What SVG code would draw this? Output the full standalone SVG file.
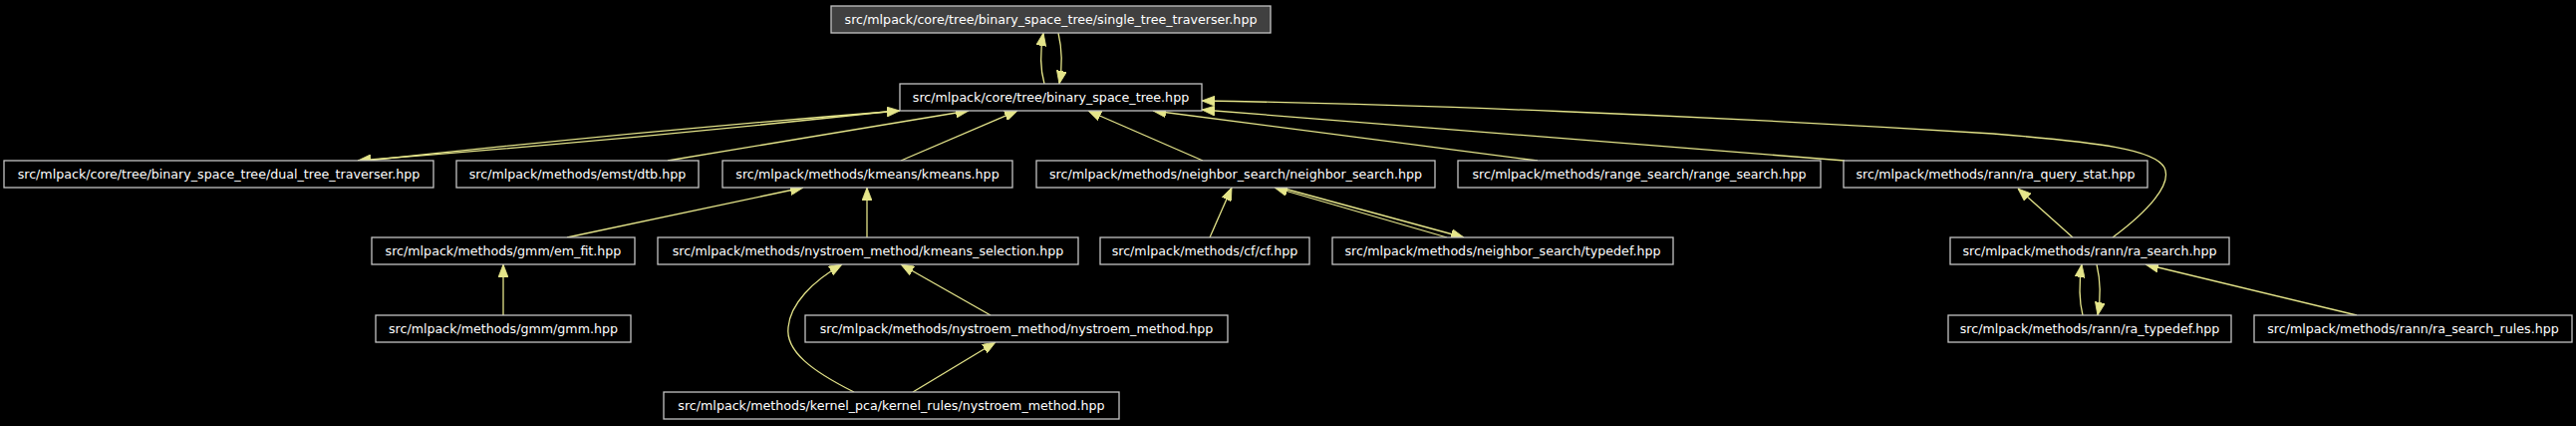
<svg xmlns="http://www.w3.org/2000/svg" width="2585" height="427" viewBox="0 0 2585 427">
<defs>
<style>
.n rect{fill:#000;stroke:#c4c4c4;stroke-width:1.3}
.n.hl rect{fill:#404040}
.n text{fill:#fff;font-family:"DejaVu Sans",sans-serif;font-size:12.65px;text-anchor:middle}
#edges path{fill:none;stroke:#e5e58a;stroke-width:1.3;marker-end:url(#ah)}
</style>
<marker id="ah" viewBox="0 0 13 10" refX="13" refY="5" markerWidth="13" markerHeight="10" markerUnits="userSpaceOnUse" orient="auto">
<path d="M0,0 L13,5 L0,10 z" fill="#e5e58a" stroke="#e5e58a" stroke-width="0.8"/>
</marker>
</defs>
<rect width="2585" height="427" fill="#000"/>
<g id="edges">
<path d="M1048,84 C1044,70 1044,50 1047,33"/>
<path d="M1062,33 C1066,50 1066,68 1063,84"/>
<path d="M368,161 Q635,132 903,111"/>
<path d="M899,111 Q630,140 359,161"/>
<path d="M670,161 L972,111"/>
<path d="M904,161 L1021,111"/>
<path d="M1207,161 L1092,111"/>
<path d="M1543,161 L1157,111"/>
<path d="M1851,161 L1206,110"/>
<path d="M2120,238 C2155,212 2180,185 2172,168 C2162,150 2110,143 2000,134 C1700,115 1400,104 1206,101"/>
<path d="M2080,238 L2025,189"/>
<path d="M569,238 L806,188"/>
<path d="M870,238 L870,188"/>
<path d="M1214,238 L1236,188"/>
<path d="M1452,238 L1279,188"/>
<path d="M1285,188 L1469,238"/>
<path d="M505,316 L505,265"/>
<path d="M994,316 L904,265"/>
<path d="M857,393 C815,372 788,352 791,328 C793,305 815,282 845,265"/>
<path d="M916,393 L999,343"/>
<path d="M2090,316 C2086,300 2086,285 2089,265"/>
<path d="M2104,265 C2108,282 2108,300 2105,316"/>
<path d="M2365,316 L2153,265"/>
</g>
<g id="n_single" class="n hl"><rect x="834" y="6" width="441" height="27"/><text x="1054.5" y="24.3">src/mlpack/core/tree/binary_space_tree/single_tree_traverser.hpp</text></g>
<g id="n_bst" class="n"><rect x="903" y="84" width="303" height="27"/><text x="1054.5" y="102.3">src/mlpack/core/tree/binary_space_tree.hpp</text></g>
<g id="n_dual" class="n"><rect x="4" y="161" width="431" height="27"/><text x="219.5" y="179.3">src/mlpack/core/tree/binary_space_tree/dual_tree_traverser.hpp</text></g>
<g id="n_dtb" class="n"><rect x="458" y="161" width="243" height="27"/><text x="579.5" y="179.3">src/mlpack/methods/emst/dtb.hpp</text></g>
<g id="n_kmeans" class="n"><rect x="725" y="161" width="291" height="27"/><text x="870.5" y="179.3">src/mlpack/methods/kmeans/kmeans.hpp</text></g>
<g id="n_ns" class="n"><rect x="1040" y="161" width="400" height="27"/><text x="1240" y="179.3">src/mlpack/methods/neighbor_search/neighbor_search.hpp</text></g>
<g id="n_range" class="n"><rect x="1463" y="161" width="364" height="27"/><text x="1645" y="179.3">src/mlpack/methods/range_search/range_search.hpp</text></g>
<g id="n_raqs" class="n"><rect x="1850" y="161" width="305" height="27"/><text x="2002.5" y="179.3">src/mlpack/methods/rann/ra_query_stat.hpp</text></g>
<g id="n_emfit" class="n"><rect x="373" y="238" width="264" height="27"/><text x="505" y="256.3">src/mlpack/methods/gmm/em_fit.hpp</text></g>
<g id="n_kmsel" class="n"><rect x="660" y="238" width="422" height="27"/><text x="871" y="256.3">src/mlpack/methods/nystroem_method/kmeans_selection.hpp</text></g>
<g id="n_cf" class="n"><rect x="1104" y="238" width="210" height="27"/><text x="1209" y="256.3">src/mlpack/methods/cf/cf.hpp</text></g>
<g id="n_nstypedef" class="n"><rect x="1337" y="238" width="342" height="27"/><text x="1508" y="256.3">src/mlpack/methods/neighbor_search/typedef.hpp</text></g>
<g id="n_rasearch" class="n"><rect x="1957" y="238" width="280" height="27"/><text x="2097" y="256.3">src/mlpack/methods/rann/ra_search.hpp</text></g>
<g id="n_gmm" class="n"><rect x="377" y="316" width="256" height="27"/><text x="505" y="334.3">src/mlpack/methods/gmm/gmm.hpp</text></g>
<g id="n_nystroem" class="n"><rect x="808" y="316" width="424" height="27"/><text x="1020" y="334.3">src/mlpack/methods/nystroem_method/nystroem_method.hpp</text></g>
<g id="n_ratypedef" class="n"><rect x="1955" y="316" width="284" height="27"/><text x="2097" y="334.3">src/mlpack/methods/rann/ra_typedef.hpp</text></g>
<g id="n_rarules" class="n"><rect x="2262" y="316" width="319" height="27"/><text x="2421.5" y="334.3">src/mlpack/methods/rann/ra_search_rules.hpp</text></g>
<g id="n_kernel" class="n"><rect x="666" y="393" width="457" height="27"/><text x="894.5" y="411.3">src/mlpack/methods/kernel_pca/kernel_rules/nystroem_method.hpp</text></g>
</svg>
